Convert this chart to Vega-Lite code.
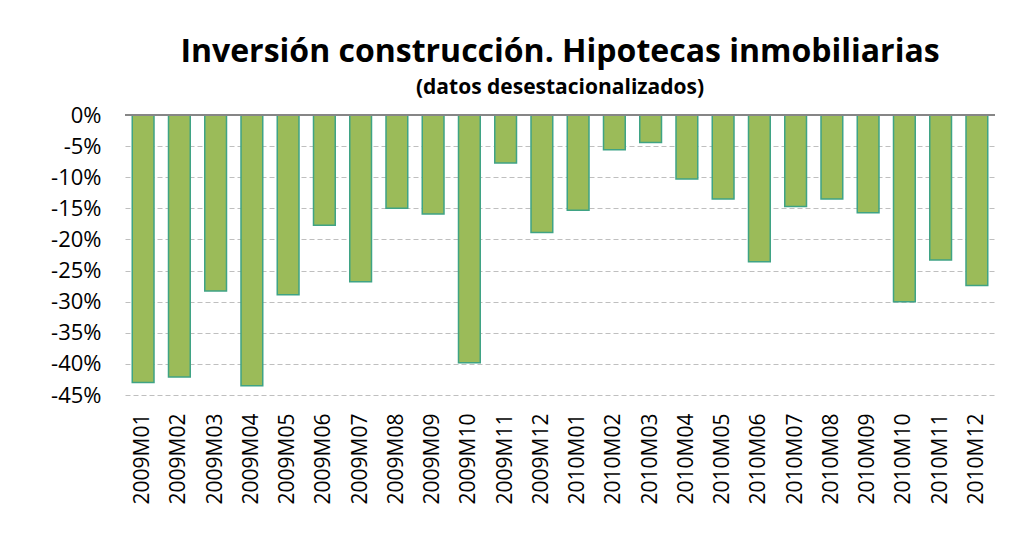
{
  "$schema": "https://vega.github.io/schema/vega-lite/v6.json",
  "width": 870,
  "height": 280,
  "autosize": {"type": "none"},
  "padding": {"left": 125, "top": 115, "right": 26, "bottom": 140},
  "background": "white",
  "title": {
    "text": "Inversión construcción. Hipotecas inmobiliarias",
    "subtitle": "(datos desestacionalizados)",
    "font": "Open Sans",
    "fontSize": 32,
    "fontWeight": "bold",
    "color": "#000000",
    "subtitleFont": "Open Sans",
    "subtitleFontSize": 21,
    "subtitleFontWeight": "bold",
    "subtitleColor": "#000000",
    "subtitlePadding": 8,
    "anchor": "middle",
    "frame": "group",
    "offset": 5
  },
  "config": {"view": {"stroke": null}, "axis": {"labelOverlap": false}},
  "data": {
    "values": [
      {"month": "2009M01", "value": -43.0},
      {"month": "2009M02", "value": -42.1},
      {"month": "2009M03", "value": -28.3},
      {"month": "2009M04", "value": -43.5},
      {"month": "2009M05", "value": -28.9},
      {"month": "2009M06", "value": -17.7},
      {"month": "2009M07", "value": -26.8},
      {"month": "2009M08", "value": -15.0},
      {"month": "2009M09", "value": -15.9},
      {"month": "2009M10", "value": -39.8},
      {"month": "2009M11", "value": -7.7},
      {"month": "2009M12", "value": -18.9},
      {"month": "2010M01", "value": -15.3},
      {"month": "2010M02", "value": -5.6},
      {"month": "2010M03", "value": -4.4},
      {"month": "2010M04", "value": -10.3},
      {"month": "2010M05", "value": -13.5},
      {"month": "2010M06", "value": -23.6},
      {"month": "2010M07", "value": -14.7},
      {"month": "2010M08", "value": -13.5},
      {"month": "2010M09", "value": -15.7},
      {"month": "2010M10", "value": -30.0},
      {"month": "2010M11", "value": -23.3},
      {"month": "2010M12", "value": -27.4}
    ]
  },
  "layer": [
    {
      "mark": {"type": "bar", "fill": "#9BBB59", "stroke": "#3FA385", "strokeWidth": 1.5},
      "encoding": {
        "x": {
          "field": "month",
          "type": "ordinal",
          "sort": null,
          "scale": {"paddingInner": 0.4, "paddingOuter": 0.2},
          "axis": {
            "title": null,
            "labelAngle": -90,
            "labelFont": "Open Sans",
            "labelFontSize": 21,
            "labelColor": "#000000",
            "labelPadding": 18,
            "labelOverlap": false,
            "ticks": false,
            "domain": false,
            "grid": false
          }
        },
        "y": {
          "field": "value",
          "type": "quantitative",
          "scale": {"domain": [-45, 0], "nice": false},
          "axis": {
            "title": null,
            "values": [0, -5, -10, -15, -20, -25, -30, -35, -40, -45],
            "tickCount": 12,
            "labelExpr": "datum.value + '%'",
            "labelFont": "Open Sans",
            "labelFontSize": 22,
            "labelColor": "#000000",
            "labelPadding": 24,
            "labelOverlap": false,
            "labelBound": false,
            "labelFlush": false,
            "ticks": false,
            "domain": false,
            "grid": true,
            "gridColor": "#BFBFBF",
            "gridDash": [5, 3],
            "gridWidth": 1.2
          }
        }
      }
    },
    {
      "mark": {"type": "rule", "color": "#868686", "strokeWidth": 2},
      "encoding": {"y": {"datum": 0, "type": "quantitative"}}
    }
  ]
}
